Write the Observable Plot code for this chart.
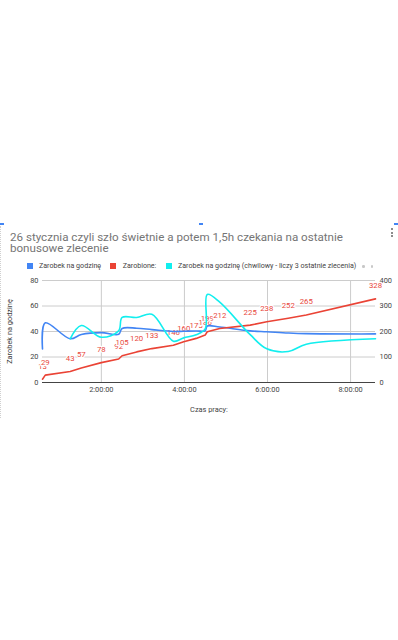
<!DOCTYPE html>
<html>
<head>
<meta charset="utf-8">
<script src="https://cdn.jsdelivr.net/npm/d3@7"></script>
<script src="https://cdn.jsdelivr.net/npm/@observablehq/plot@0.6"></script>
<style>
  html, body { margin: 0; padding: 0; background: #fff; }
  body { width: 398px; height: 640px; position: relative; overflow: hidden; font-family: Roboto, "Liberation Sans", Arial, sans-serif; }
  .abs { position: absolute; }
  .title { left: 10px; top: 231.5px; font-size: 11.6px; line-height: 11.7px; color: #757575; white-space: nowrap; }
  .leg { font-size: 7.1px; color: #444; white-space: nowrap; line-height: 8px; top: 262px; }
  .sw { width: 6px; height: 6px; top: 263px; }
  .handle { background: #4285f4; height: 1.5px; width: 4px; top: 223px; }
  .mdot { width: 2.2px; height: 2.2px; border-radius: 50%; background: #666; left: 390.8px; }
  .pdot { width: 2.5px; height: 2.5px; border-radius: 50%; background: #c8c8c8; top: 265px; }
  #chart { left: 0; top: 270px; }
</style>
</head>
<body>
<div class="abs handle" style="left:0px"></div>
<div class="abs handle" style="left:199px"></div>
<div class="abs handle" style="left:394px"></div>
<div class="abs" style="left:0;top:226px;height:192px;border-left:1px dotted #d0d0d0"></div>

<div class="abs title">26 stycznia czyli szło świetnie a potem 1,5h czekania na ostatnie<br>bonusowe zlecenie</div>
<div class="abs mdot" style="top:228px"></div>
<div class="abs mdot" style="top:231.6px"></div>
<div class="abs mdot" style="top:235.2px"></div>

<div id="legend"></div>
<div id="chart" class="abs"></div>

<script>
// ---- data ----
const times = ["0:35","0:39","1:15","1:31","2:00","2:25","2:30","2:51","3:13","3:44","3:59","4:17","4:30","4:33","4:51","5:35","5:59","6:30","6:56","8:36"];
const zarobione = [13,29,43,57,78,92,105,120,133,146,160,173,186,199,212,225,238,252,265,328];
const zarobekNaGodzine = [26.4,46.8,34.3,37.6,39.1,37.8,42.4,42.6,41.5,40.0,40.2,40.4,40.6,44.3,43.5,40.5,39.8,38.8,38.3,38.1];
const zarobekChwilowy = [null,null,34.3,44.7,35.5,40.5,51.0,51.0,53.5,32.4,35.0,37.5,42.0,69.0,63.0,37.5,26.4,24.3,30.0,34.3];

const seriesNames = ["Zarobek na godzinę", "Zarobione:", "Zarobek na godzinę (chwilowy - liczy 3 ostatnie zlecenia)"];
const seriesColors = ["#4285f4", "#ea4335", "#12eeee"];

const leftTicks = [0, 20, 40, 60, 80];
const rightTicks = [0, 100, 200, 300, 400];
const xTickLabels = ["2:00:00", "4:00:00", "6:00:00", "8:00:00"];

const yTitle = "Zarobek na godzinę";
const xTitle = "Czas pracy:";

// ---- helpers ----
const toHours = s => { const p = s.split(":").map(Number); return p[0] + (p[1] || 0) / 60 + (p[2] || 0) / 3600; };
const ratio = rightTicks[rightTicks.length - 1] / leftTicks[leftTicks.length - 1];

const rows = times.map((t, i) => ({
  h: toHours(t),
  red: zarobione[i],
  redL: zarobione[i] / ratio,
  blue: zarobekNaGodzine[i],
  cyan: zarobekChwilowy[i]
}));
const xTickValues = xTickLabels.map(toHours);

// ---- legend ----
const legendPos = [[26.7, 39], [110, 122.7], [166, 178]];
const legend = document.getElementById("legend");
seriesNames.forEach((n, i) => {
  const sw = document.createElement("div");
  sw.className = "abs sw"; sw.style.left = legendPos[i][0] + "px"; sw.style.background = seriesColors[i];
  legend.appendChild(sw);
  const tx = document.createElement("div");
  tx.className = "abs leg"; tx.style.left = legendPos[i][1] + "px"; tx.textContent = n;
  legend.appendChild(tx);
});
[362, 370.5].forEach(x => {
  const d = document.createElement("div");
  d.className = "abs pdot"; d.style.left = x + "px";
  legend.appendChild(d);
});

// ---- chart ----
const chart = Plot.plot({
  width: 398,
  height: 150,
  marginLeft: 42,
  marginRight: 23,
  marginTop: 10,
  marginBottom: 38,
  style: { fontFamily: "Roboto, 'Liberation Sans', Arial, sans-serif", fontSize: "7.4px", color: "#444", background: "transparent", overflow: "visible" },
  x: { type: "linear", domain: d3.extent(rows, d => d.h) },
  y: { domain: [leftTicks[0], leftTicks[leftTicks.length - 1]] },
  marks: [
    Plot.gridY(leftTicks, { stroke: "#cccccc", strokeOpacity: 1 }),
    Plot.gridX(xTickValues, { stroke: "#cccccc", strokeOpacity: 1 }),
    Plot.ruleY([0], { stroke: "#444", strokeWidth: 1 }),
    Plot.axisY(leftTicks, {
      anchor: "left", tickSize: 0, tickPadding: 4,
      label: yTitle, labelAnchor: "center", labelOffset: 36, labelArrow: "none", fill: "#444"
    }),
    Plot.axisY(leftTicks, {
      anchor: "right", tickSize: 0, tickPadding: 4, label: null,
      tickFormat: d => rightTicks[leftTicks.indexOf(d)], fill: "#444"
    }),
    Plot.axisX(xTickValues, {
      anchor: "bottom", tickSize: 0, tickPadding: 4.5,
      tickFormat: d => xTickLabels[xTickValues.indexOf(d)],
      label: xTitle, labelAnchor: "center", labelOffset: 29, labelArrow: "none", fill: "#444"
    }),
    Plot.text(rows, {
      x: "h", y: "redL", text: d => String(d.red), dy: -13,
      fill: "#e8473c", stroke: "white", strokeWidth: 2.5, fontSize: 7.8
    }),
    Plot.line(rows, { x: "h", y: "blue", stroke: seriesColors[0], strokeWidth: 1.6, curve: "catmull-rom" }),
    Plot.line(rows, { x: "h", y: "redL", stroke: seriesColors[1], strokeWidth: 1.6, curve: "linear" }),
    Plot.line(rows, { x: "h", y: "cyan", stroke: seriesColors[2], strokeWidth: 1.6, curve: "catmull-rom" })
  ]
});
document.getElementById("chart").appendChild(chart);
</script>
</body>
</html>
